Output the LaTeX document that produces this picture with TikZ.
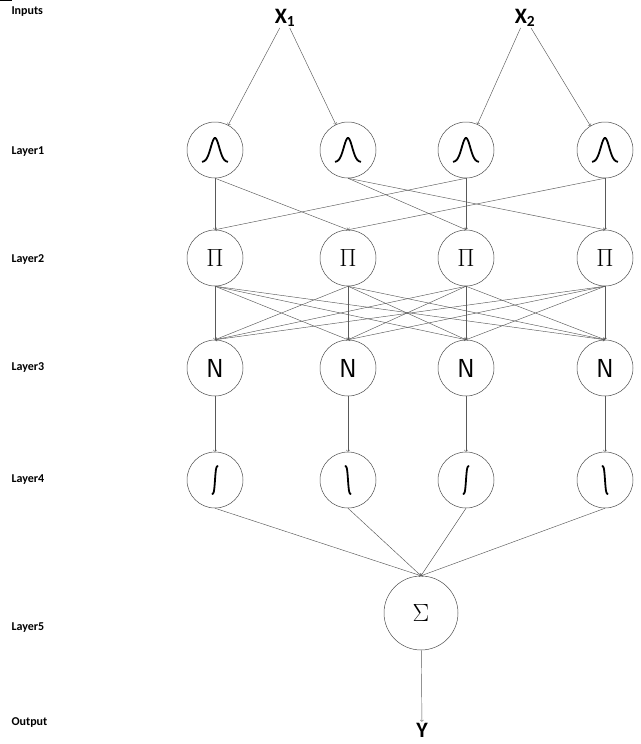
\documentclass[tikz,border=0pt]{standalone}
\usepackage{fontspec}
\setmainfont{Carlito}
\begin{document}
\begin{tikzpicture}[x=1pt,y=-1pt,
  neur/.style={circle,draw=black!70,line width=0.5pt,minimum size=56pt,inner sep=0pt,font=\fontsize{28}{28}\selectfont},
  big/.style={circle,draw=black!70,line width=0.5pt,minimum size=74pt,inner sep=0pt,font=\fontsize{34}{34}\selectfont},
  conn/.style={draw=black!65,line width=0.45pt,-to},
  lab/.style={anchor=west,font=\bfseries\fontsize{12}{12}\selectfont}]
\useasboundingbox (0,0) rectangle (640,744);
\node[lab] (l0) at (8,12) {Inputs};
\node[lab] (l1) at (8,152) {Layer1};
\node[lab] (l2) at (8,260) {Layer2};
\node[lab] (l3) at (8,368) {Layer3};
\node[lab] (l4) at (8,480) {Layer4};
\node[lab] (l5) at (8,628) {Layer5};
\node[lab] (l6) at (8,722) {Output};
\node[font=\bfseries\fontsize{22}{22}\selectfont,inner sep=1pt] (x1) at (285,18) {X\textsubscript{1}};
\node[font=\bfseries\fontsize{22}{22}\selectfont,inner sep=1pt] (x2) at (525,18) {X\textsubscript{2}};
\node[font=\bfseries\fontsize{22}{22}\selectfont,inner sep=1pt] (y) at (422,730) {Y};
\foreach \i/\x in {1/215,2/348,3/466,4/605}{
  \node[neur] (a\i) at (\x,150) {};
  \draw[line width=2pt] plot[domain=-12:12,samples=40,smooth] ({\x+\x*0+0+\x*0+\x*0},0) ;
  \node[neur] (p\i) at (\x,258) {$\Pi$};
  \node[neur,font=\sffamily\fontsize{26}{26}\selectfont] (n\i) at (\x,368) {N};
  \node[neur] (s\i) at (\x,480) {};
}
\foreach \i in {1,...,4}{
  \draw[line width=1.8pt,shift={(a\i.center)}] plot[domain=-13:13,samples=40,smooth] (\x,{12-24*exp(-(\x/6)^2)});
}
\foreach \i in {1,3}{
  \draw[line width=1.8pt,shift={(s\i.center)}] plot[domain=-8:8,samples=30,smooth] (\x*0.4+0, {-14*tanh(\x/2.5)}) ;
}
\foreach \i in {2,4}{
  \draw[line width=1.8pt,shift={(s\i.center)}] plot[domain=-8:8,samples=30,smooth] (\x*0.4+0, {14*tanh(\x/2.5)}) ;
}
\node[big] (sg) at (421,613) {$\Sigma$};
\draw[conn] (x1) -- (a1); \draw[conn] (x1) -- (a2);
\draw[conn] (x2) -- (a3); \draw[conn] (x2) -- (a4);
\foreach \a/\b in {1/1,1/2,2/3,2/4,3/1,3/3,4/2,4/4}{\draw[conn] (a\a.south) -- (p\b.north);}
\foreach \a in {1,...,4}{\foreach \b in {1,...,4}{\draw[conn] (p\a.south) -- (n\b.north);}}
\foreach \i in {1,...,4}{\draw[conn] (n\i) -- (s\i); \draw[conn] (s\i.south) -- (sg.north);}
\draw[conn] (sg) -- (y);
\end{tikzpicture}
\end{document}
